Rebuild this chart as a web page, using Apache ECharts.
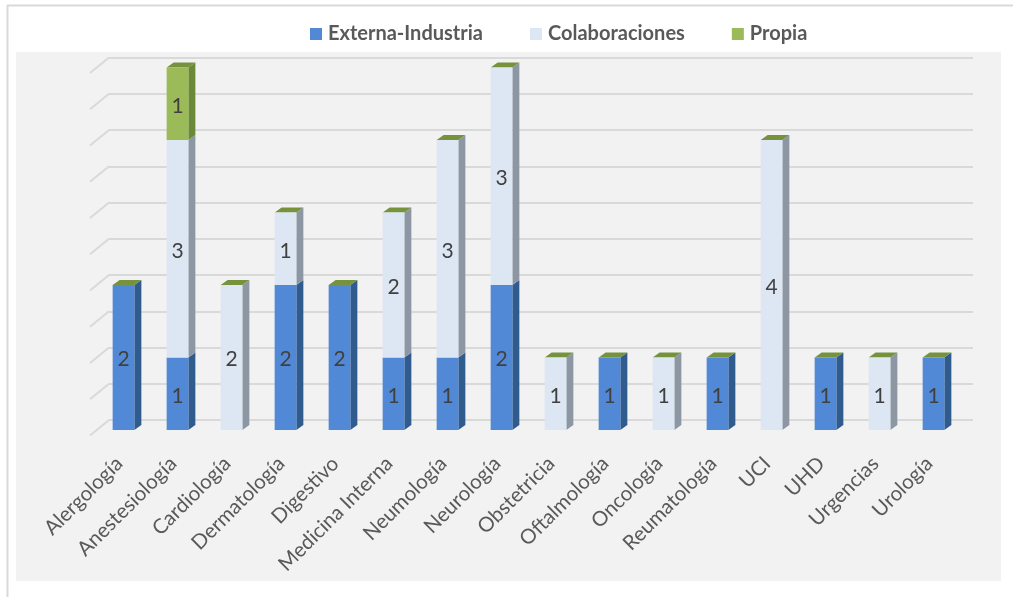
<!DOCTYPE html>
<html><head><meta charset="utf-8">
<style>html,body{margin:0;padding:0;background:#fff}#c{width:1013px;height:597px;filter:blur(0.6px)}</style>
<script src="https://cdn.jsdelivr.net/npm/echarts@6/dist/echarts.min.js"></script>
</head><body><div id="c"></div>
<script>
const categories = ['Alergología','Anestesiología','Cardiología','Dermatología','Digestivo','Medicina Interna','Neumología','Neurología','Obstetricia','Oftalmología','Oncología','Reumatología','UCI','UHD','Urgencias','Urología'];
const externa = [2,1,0,2,2,1,1,2,0,1,0,1,0,1,0,1];
const colaboraciones = [0,3,2,1,0,2,3,3,1,0,1,0,4,0,1,0];
const propia = [0,1,0,0,0,0,0,0,0,0,0,0,0,0,0,0];
const wallTicks = [0,0.5,1,1.5,2,2.5,3,3.5,4,4.5,5];

const seriesNames = ['Externa-Industria','Colaboraciones','Propia'];
const seriesValues = [externa, colaboraciones, propia];
const frontColors = ['#5289d6','#dde7f3','#9bbb59'];
const sideColors = ['#2f5b8e','#8d97a3','#6b8a38'];
const topColor = '#76923c';
const barW = 21.7, depthX = 7, depthY = 5;

const segs = [];
const tops = [];
categories.forEach((c,i)=>{
  let s = 0;
  seriesValues.forEach((arr,k)=>{
    if(arr[i]>0){ segs.push([i,s,s+arr[i],k]); s+=arr[i]; }
  });
  tops.push([i,s]);
});

const labelFor = p => p.value>0 ? String(p.value) : '';
const barSeries = seriesNames.map((n,k)=>({
  name:n, type:'bar', stack:'total', xAxisIndex:1, yAxisIndex:1, barWidth:barW, z:5,
  data:seriesValues[k], itemStyle:{color:frontColors[k]},
  label:{show:true,position:'inside',offset:[0,2],formatter:labelFor,fontFamily:'Lato',fontSize:21,color:'#404040'}
}));

const option = {
  animation:false,
  backgroundColor:'#fff',
  graphic:[
    {type:'rect',silent:true,z:-10,shape:{x:16,y:52,width:985,height:529},style:{fill:'#f2f2f2'}},
    {type:'line',silent:true,z:-10,shape:{x1:7.5,y1:5.5,x2:7.5,y2:597},style:{stroke:'#d9d9d9',lineWidth:2}},
    {type:'line',silent:true,z:-10,shape:{x1:7,y1:5.5,x2:1013,y2:5.5},style:{stroke:'#d9d9d9',lineWidth:2}}
  ],
  legend:{
    left:305,top:19,itemWidth:12,itemHeight:12,itemGap:47,icon:'rect',
    data:seriesNames,
    textStyle:{fontFamily:'Lato',fontSize:20,fontWeight:'bold',color:'#595959',padding:[0,0,0,1]}
  },
  grid:[
    {left:109,right:40,top:57.5,bottom:177},
    {left:96.5,width:864,top:67.6,bottom:167}
  ],
  xAxis:[
    {gridIndex:0,type:'value',min:0,max:1,show:false},
    {gridIndex:1,type:'category',data:categories,
     axisLine:{show:false},axisTick:{show:false},
     axisLabel:{interval:0,rotate:45,margin:26,padding:[0,6,0,0],fontFamily:'Lato',fontSize:20.5,color:'#595959'}}
  ],
  yAxis:[
    {gridIndex:0,type:'value',min:0,max:5,interval:0.5,axisLine:{show:false},axisTick:{show:false},axisLabel:{show:false},
     splitLine:{show:true,lineStyle:{color:'#d9d9d9',width:2}}},
    {gridIndex:1,type:'value',min:0,max:5,interval:0.5,axisLine:{show:false},axisTick:{show:false},axisLabel:{show:false},splitLine:{show:false}}
  ],
  series:[
    {type:'custom',name:'wall',xAxisIndex:0,yAxisIndex:0,z:1,silent:true,clip:false,
     data:wallTicks.map(v=>[0,v]),
     renderItem:(p,api)=>{
       const a=api.coord([api.value(0),api.value(1)]);
       return {type:'line',shape:{x1:a[0],y1:a[1],x2:a[0]-19,y2:a[1]+15.5},style:{stroke:'#d9d9d9',lineWidth:2,fill:null}};
     }},
    {type:'custom',name:'sides',xAxisIndex:1,yAxisIndex:1,z:4,silent:true,clip:false,
     encode:{x:0,y:[1,2]},data:segs,
     renderItem:(p,api)=>{
       const b=api.coord([api.value(0),api.value(1)]);
       const t=api.coord([api.value(0),api.value(2)]);
       const x=b[0]+barW/2;
       return {type:'polygon',shape:{points:[[x,b[1]],[x+depthX,b[1]-depthY],[x+depthX,t[1]-depthY],[x,t[1]]]},
               style:{fill:sideColors[api.value(3)]}};
     }},
    {type:'custom',name:'tops',xAxisIndex:1,yAxisIndex:1,z:4,silent:true,clip:false,
     encode:{x:0,y:1},data:tops,
     renderItem:(p,api)=>{
       const t=api.coord([api.value(0),api.value(1)]);
       const l=t[0]-barW/2,r=t[0]+barW/2;
       return {type:'polygon',shape:{points:[[l,t[1]],[r,t[1]],[r+depthX,t[1]-depthY],[l+depthX,t[1]-depthY]]},
               style:{fill:topColor}};
     }},
    ...barSeries
  ]
};
echarts.init(document.getElementById('c'),null,{renderer:'canvas'}).setOption(option);
</script></body></html>
